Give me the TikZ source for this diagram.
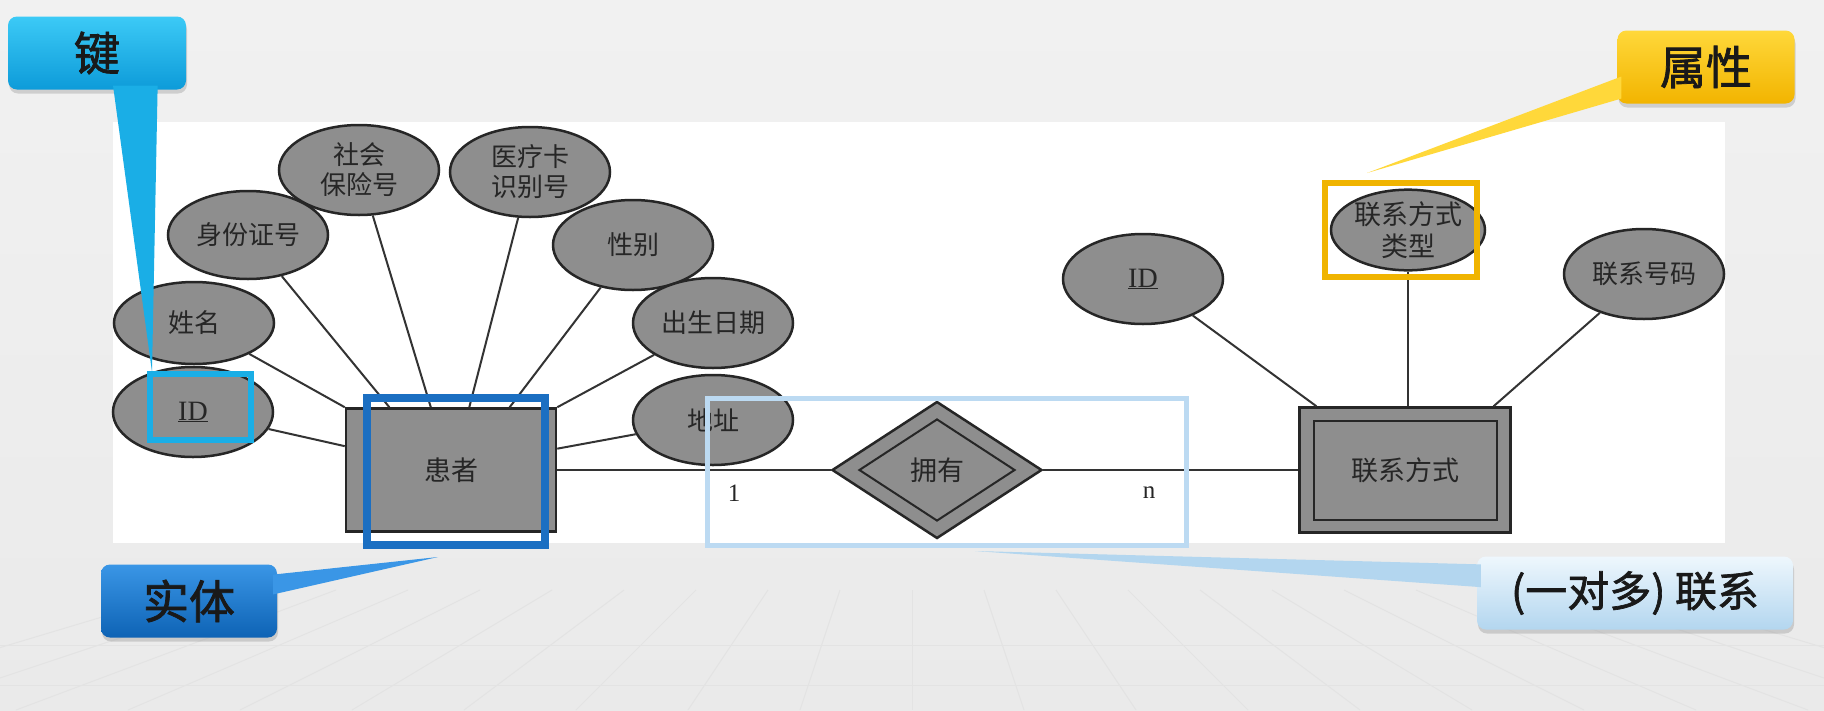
\documentclass[tikz,border=0pt]{standalone}
\usepackage{fontspec}
\setmainfont{Liberation Serif}
\newfontfamily\cjk{Noto Sans CJK SC}
\newfontfamily\cjkheavy[FakeBold=1.6]{Noto Sans CJK SC}
\usepackage{xcolor}
\usepackage{tikz}
\usetikzlibrary{shapes.geometric}
\usetikzlibrary{shadows}
\usetikzlibrary{calc}

\definecolor{attrgray}{HTML}{8E8E8E}
\definecolor{bgtop}{HTML}{F1F1F1}
\definecolor{bgbot}{HTML}{EAEAEA}
\definecolor{floorgray}{HTML}{E3E3E3}
\definecolor{keycyan}{HTML}{1AAEE6}
\definecolor{entityblue}{HTML}{1B6FC2}
\definecolor{relblue}{HTML}{BCDAF2}
\definecolor{attryellow}{HTML}{F0B400}
\definecolor{keytop}{HTML}{3CCAF6}
\definecolor{keybot}{HTML}{0D9BD9}
\definecolor{entitytop}{HTML}{3A96E6}
\definecolor{entitybot}{HTML}{0E63B5}
\definecolor{attrtop}{HTML}{FFD83A}
\definecolor{attrbot}{HTML}{F2B400}
\definecolor{reltop}{HTML}{EEF7FD}
\definecolor{relbot}{HTML}{B3D6EF}

\begin{document}
\begin{tikzpicture}[x=1pt, y=-1pt,
        attr/.style={ellipse, draw=black!85, fill=attrgray, line width=2.5pt,
            inner sep=0pt, minimum width=160pt, minimum height=90pt,
            align=center, text=black!85, font=\cjk\fontsize{26}{30}\selectfont},
        entity/.style={rectangle, draw=black!85, fill=attrgray, line width=2.5pt,
            inner sep=0pt, minimum width=210pt, minimum height=123pt,
            text=black!85, font=\cjk\fontsize{27}{30}\selectfont},
        inbox/.style={draw=black!85, line width=2pt, inner sep=0pt,
            text=black!85, font=\cjk\fontsize{27}{30}\selectfont},
        link/.style={draw=black!80, line width=2pt},
        card/.style={font=\fontsize{25}{28}\selectfont, text=black!85},
        frame/.style={line width=#1},
        callbox/.style={rectangle, rounded corners=9pt, minimum height=73pt,
            inner sep=0pt, text=black!90, font=\cjkheavy\fontsize{46}{50}\selectfont,
            drop shadow={opacity=.3, shadow xshift=1pt, shadow yshift=-4pt}},
        floorline/.style={draw=floorgray, line width=1pt}
    ]
            \useasboundingbox (0,0) rectangle (1824,710);

            % slide background and floor tiles
            \shade[top color=bgtop, bottom color=bgbot] (0,0) rectangle (1824,710);
            \foreach \k in {-10,...,10}
                \draw[floorline] (912+\k*72, 590) -- (912+\k*112, 710);
            \draw[floorline] (0,645) -- (1824,645);
            \draw[floorline] (0,685) -- (1824,685);
            \fill[white] (113,122) rectangle (1725,543);

            % patient side
            \node[entity] (patient) at (451,470) {患者};
            \node[attr] (social) at (359,170) {社会\\保险号};
            \node[attr, minimum height=88pt] (idcard) at (248,235) {身份证号};
            \node[attr] (medical) at (530,172) {医疗卡\\识别号};
            \node[attr] (gender) at (633,245) {性别};
            \node[attr, minimum height=82pt] (name) at (194,323) {姓名};
            \node[attr, font=\fontsize{28}{30}\selectfont] (pid) at (193,412) {\underline{ID}};
            \node[attr] (birth) at (713,323) {出生日期};
            \node[attr] (address) at (713,420) {地址};

            % relationship
            \node[diamond, draw=black!85, fill=attrgray, line width=2.5pt, inner sep=0pt,
                minimum width=210pt, minimum height=137pt] (owns) at (937,470) {};
            \node[inbox, diamond, minimum width=156pt, minimum height=102pt]
                (ownsin) at (owns.center) {拥有};

            % contact side
            \node[entity, minimum width=211pt, minimum height=125pt] (contact) at (1405,470) {};
            \node[inbox, rectangle, minimum width=183pt, minimum height=99pt]
                (contactin) at (contact.center) {联系方式};
            \node[attr, font=\fontsize{28}{30}\selectfont] (cid) at (1143,279) {\underline{ID}};
            \node[attr, minimum width=154pt, minimum height=76pt,
                font=\cjk\fontsize{27}{32}\selectfont] (ctype) at (1408,230) {联系方式\\类型};
            \node[attr] (cphone) at (1644,274) {联系号码};

            % attributes to entities
            \draw[link] (name) -- (patient.north west);
            \draw[link] (pid) -- ($(patient.north west)!.31!(patient.south west)$);
            \draw[link] (idcard) -- ($(patient.north west)!.21!(patient.north east)$);
            \draw[link] (social) -- ($(patient.north west)!.405!(patient.north east)$);
            \draw[link] (medical) -- ($(patient.north west)!.586!(patient.north east)$);
            \draw[link] (gender) -- ($(patient.north west)!.776!(patient.north east)$);
            \draw[link] (birth) -- (patient.north east);
            \draw[link] (address) -- ($(patient.north east)!.33!(patient.south east)$);
            \draw[link] (cid) -- ($(contact.north west)!.085!(contact.north east)$);
            \draw[link] (ctype.south) -- (ctype.south |- contact.north);
            \draw[link] (cphone) -- ($(contact.north west)!.915!(contact.north east)$);

            % one to many
            \draw[link] (patient.east) -- (owns.west);
            \draw[link] (owns.east) -- (contact.west);
            \node[card] (one) at (734,493) {1};
            \node[card] (many) at (1149,493) {n};

            % highlight frames
            \draw[keycyan, frame=6pt] (150,374) rectangle (251,440);
            \draw[entityblue, frame=8pt] (367,398) rectangle (545,545);
            \draw[relblue, frame=5pt] (707,398) rectangle (1186,545);
            \draw[attryellow, frame=6pt] (1325,183) rectangle (1477,277);

            % callouts
            \coordinate (keytip) at (152,372);
            \coordinate (entitytip) at (438,557);
            \coordinate (attrtip) at (1367,173);
            \coordinate (reltip) at (975,551);

            \node[callbox, minimum width=178pt, top color=keytop, bottom color=keybot]
                (keybox) at (97,53) {键};
            \node[callbox, minimum width=176pt, top color=entitytop, bottom color=entitybot]
                (entitybox) at (189,601) {实体};
            \node[callbox, minimum width=177pt, top color=attrtop, bottom color=attrbot]
                (attrbox) at (1706,67) {属性};
            \node[callbox, minimum width=316pt, top color=reltop, bottom color=relbot,
                font=\cjkheavy\fontsize{42}{46}\selectfont] (relbox) at (1635,593) {(一对多) 联系};

            \fill[keycyan] ($(keybox.south west)!.59!(keybox.south east)+(0,-4)$) -- (keytip)
                -- ($(keybox.south west)!.84!(keybox.south east)+(0,-4)$) -- cycle;
            \fill[entitytop] ($(entitybox.north east)!.14!(entitybox.south east)+(-4,0)$)
                -- (entitytip) -- ($(entitybox.north east)!.41!(entitybox.south east)+(-4,0)$) -- cycle;
            \fill[attrtop] ($(attrbox.north west)!.63!(attrbox.south west)+(4,0)$)
                -- (attrtip) -- ($(attrbox.north west)!.93!(attrbox.south west)+(4,0)$) -- cycle;
            \fill[relbot] ($(relbox.north west)!.11!(relbox.south west)+(4,0)$)
                -- (reltip) -- ($(relbox.north west)!.42!(relbox.south west)+(4,0)$) -- cycle;
        \end{tikzpicture}
\end{document}
